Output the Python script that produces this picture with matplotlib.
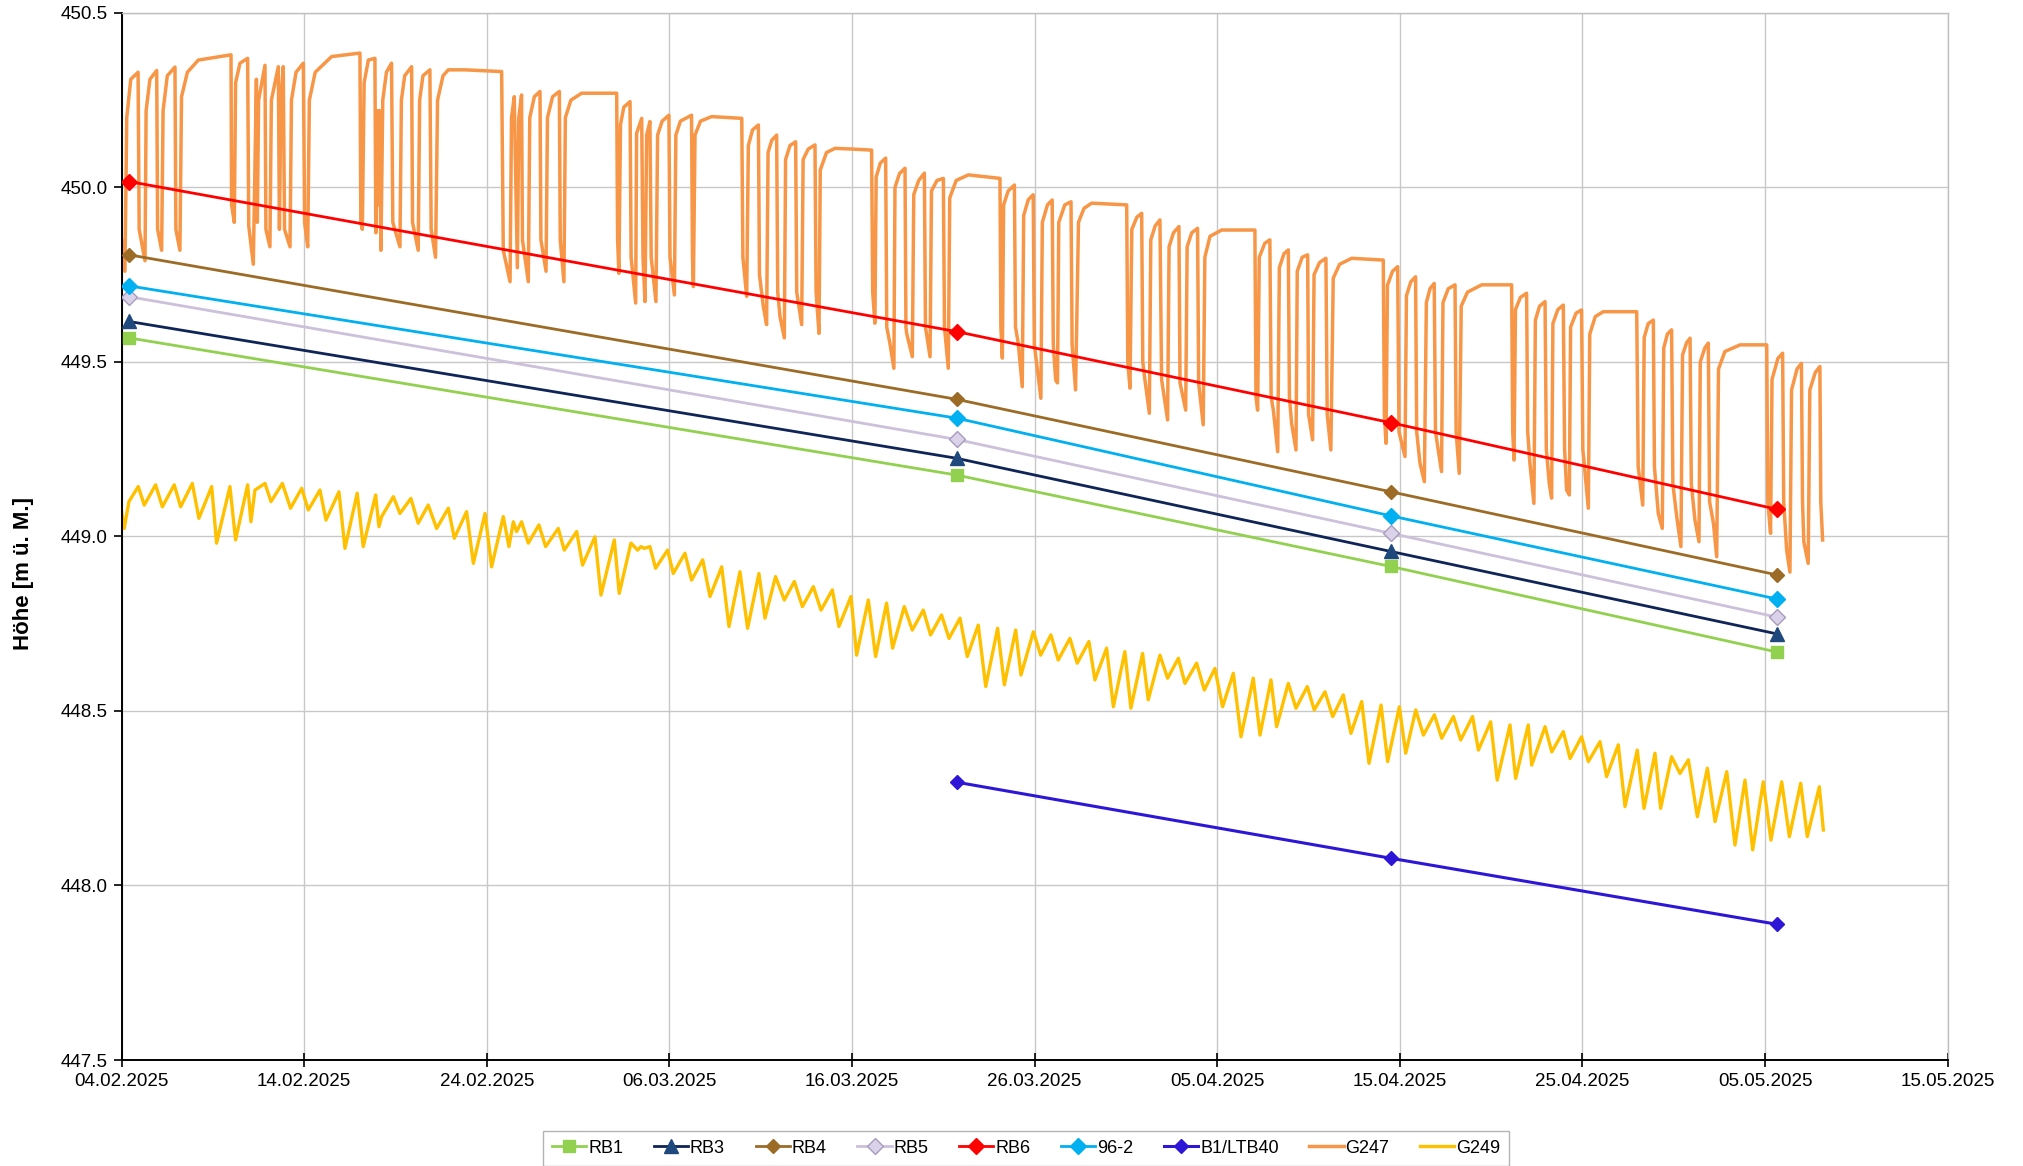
import matplotlib
matplotlib.use("Agg")
import matplotlib.pyplot as plt
import matplotlib.dates as mdates
import pandas as pd

plt.rcParams['font.family'] = ['Liberation Sans', 'DejaVu Sans']

START = pd.Timestamp('2025-02-04')

# manual readings (dates of the field campaigns)
rb_dates = ['2025-02-04 09:40', '2025-03-21 17:30', '2025-04-14 12:15', '2025-05-05 15:20']
rb1 = [449.569, 449.176, 448.914, 448.669]
rb3 = [449.616, 449.224, 448.957, 448.721]
rb4 = [449.807, 449.393, 449.128, 448.890]
rb5 = [449.687, 449.278, 449.009, 448.769]
rb6 = [450.017, 449.587, 449.326, 449.078]
w96_2 = [449.718, 449.339, 449.059, 448.821]
b1_ltb40 = [None, 448.296, 448.078, 447.889]

# logger G247: days since 04.02.2025 and level
g247_days = [
    0.00, 0.18, 0.28, 0.50, 0.90, 0.96, 1.28, 1.34, 1.55, 1.92, 1.97, 2.19, 2.27, 2.50, 2.92, 2.97, 3.19,
    3.28, 3.60, 4.20, 5.99, 6.02, 6.17, 6.24, 6.48, 6.90, 6.96, 7.21, 7.38, 7.43, 7.50, 7.85, 7.90, 8.12,
    8.20, 8.58, 8.64, 8.72, 8.85, 8.92, 9.22, 9.30, 9.55, 9.95, 10.02, 10.19, 10.28, 10.60, 11.50, 13.05,
    13.10, 13.18, 13.28, 13.51, 13.87, 13.92, 14.00, 14.06, 14.12, 14.20, 14.30, 14.50, 14.78, 14.85, 15.24,
    15.32, 15.50, 15.88, 15.93, 16.24, 16.32, 16.50, 16.88, 16.95, 17.19, 17.30, 17.60, 17.89, 18.80, 20.81,
    20.90, 21.27, 21.35, 21.50, 21.67, 21.75, 21.90, 21.95, 22.27, 22.35, 22.60, 22.91, 22.96, 23.24, 23.32,
    23.60, 23.97, 24.02, 24.22, 24.30, 24.60, 25.19, 27.11, 27.16, 27.23, 27.32, 27.50, 27.84, 27.90, 28.15,
    28.20, 28.48, 28.55, 28.66, 28.75, 28.93, 29.00, 29.26, 29.35, 29.60, 29.97, 30.03, 30.27, 30.35, 30.60,
    31.21, 31.26, 31.31, 31.40, 31.70, 32.31, 33.96, 34.02, 34.23, 34.32, 34.55, 34.87, 34.93, 35.14, 35.32,
    35.40, 35.60, 35.87, 35.93, 36.05, 36.29, 36.36, 36.60, 36.91, 36.97, 37.24, 37.32, 37.60, 37.97, 38.03,
    38.19, 38.26, 38.60, 39.06, 40.00, 41.07, 41.13, 41.25, 41.32, 41.55, 41.84, 41.90, 42.07, 42.29, 42.35,
    42.60, 42.90, 42.95, 42.99, 43.30, 43.38, 43.65, 43.96, 44.02, 44.27, 44.35, 44.65, 45.00, 45.06, 45.27,
    45.35, 45.70, 46.37, 48.10, 48.15, 48.23, 48.30, 48.55, 48.89, 48.95, 49.10, 49.32, 49.40, 49.65, 49.92,
    49.98, 50.34, 50.42, 50.70, 50.96, 51.02, 51.15, 51.25, 51.32, 51.65, 51.99, 52.05, 52.24, 52.40, 52.70,
    53.12, 55.04, 55.10, 55.22, 55.32, 55.60, 55.86, 55.92, 56.04, 56.28, 56.36, 56.60, 56.86, 56.95, 57.28,
    57.36, 57.60, 57.90, 57.96, 58.27, 58.35, 58.60, 58.92, 58.98, 59.23, 59.32, 59.60, 60.24, 62.06, 62.12,
    62.21, 62.30, 62.60, 62.88, 62.95, 63.07, 63.31, 63.40, 63.65, 63.89, 63.95, 64.07, 64.31, 64.38, 64.65,
    64.95, 65.00, 65.22, 65.30, 65.60, 65.95, 66.02, 66.22, 66.35, 66.70, 67.36, 69.09, 69.15, 69.24, 69.32,
    69.60, 69.88, 69.95, 70.28, 70.36, 70.60, 70.86, 70.92, 71.10, 71.34, 71.45, 71.65, 71.88, 71.95, 72.28,
    72.36, 72.65, 73.02, 73.08, 73.25, 73.36, 73.70, 74.48, 76.12, 76.18, 76.25, 76.33, 76.60, 76.94, 77.00,
    77.12, 77.34, 77.42, 77.65, 77.95, 78.02, 78.18, 78.31, 78.38, 78.65, 78.95, 79.02, 79.13, 79.28, 79.35,
    79.65, 79.95, 80.02, 80.32, 80.40, 80.70, 81.14, 82.97, 83.05, 83.30, 83.38, 83.60, 83.88, 83.94, 84.15,
    84.37, 84.45, 84.65, 84.88, 84.95, 85.16, 85.39, 85.48, 85.70, 85.89, 85.96, 86.16, 86.38, 86.45, 86.70,
    86.89, 86.96, 87.17, 87.35, 87.45, 87.80, 88.63, 90.09, 90.15, 90.30, 90.38, 90.70, 90.96, 91.02, 91.18,
    91.36, 91.45, 91.75, 91.99, 92.05, 92.12, 92.36, 92.45, 92.75, 93.00, 93.05, 93.15,
]
g247 = [
    449.85, 449.76, 450.20, 450.31, 450.33, 449.88, 449.79, 450.22, 450.31, 450.335, 449.88, 449.82, 450.22, 450.32, 450.345, 449.88, 449.82,
    450.26, 450.33, 450.365, 450.38, 449.95, 449.90, 450.30, 450.356, 450.37, 449.89, 449.78, 450.31, 449.90, 450.25, 450.35, 449.88, 449.83,
    450.25, 450.346, 449.88, 450.25, 450.346, 449.88, 449.83, 450.25, 450.33, 450.356, 449.90, 449.83, 450.25, 450.33, 450.375, 450.385,
    449.90, 449.88, 450.30, 450.365, 450.37, 449.87, 450.22, 449.95, 450.22, 449.82, 450.25, 450.33, 450.356, 449.90, 449.83,
    450.25, 450.32, 450.346, 449.90, 449.82, 450.25, 450.32, 450.337, 449.88, 449.80, 450.25, 450.32, 450.337, 450.337, 450.332,
    449.82, 449.73, 450.20, 450.26, 449.77, 450.20, 450.265, 449.85, 449.73, 450.20, 450.26, 450.275, 449.85, 449.76, 450.20,
    450.26, 450.275, 449.85, 449.73, 450.20, 450.25, 450.27, 450.27, 449.85, 449.754, 450.18, 450.23, 450.246, 449.80, 449.669,
    450.155, 450.198, 449.80, 449.673, 450.15, 450.189, 449.80, 449.673, 450.15, 450.19, 450.207, 449.80, 449.692, 450.15, 450.19,
    450.207, 449.80, 449.716, 450.15, 450.19, 450.203, 450.198, 449.80, 449.688, 450.12, 450.165, 450.179, 449.75, 449.659, 449.607,
    450.10, 450.135, 450.150, 449.70, 449.631, 449.569, 450.08, 450.12, 450.131, 449.70, 449.607, 450.08, 450.11, 450.122, 449.70,
    449.582, 450.05, 450.10, 450.112, 450.11, 450.107, 449.70, 449.611, 450.03, 450.07, 450.084, 449.60, 449.554, 449.482, 450.00,
    450.04, 450.055, 449.60, 449.582, 449.515, 449.98, 450.02, 450.041, 449.60, 449.515, 449.99, 450.02, 450.026, 449.60, 449.482,
    449.97, 450.02, 450.036, 450.026, 449.60, 449.511, 449.95, 449.99, 450.007, 449.60, 449.554, 449.429, 449.92, 449.965, 449.979,
    449.55, 449.396, 449.90, 449.95, 449.964, 449.55, 449.448, 449.44, 449.90, 449.95, 449.959, 449.55, 449.420, 449.90, 449.94,
    449.955, 449.950, 449.50, 449.425, 449.88, 449.915, 449.926, 449.50, 449.448, 449.353, 449.85, 449.89, 449.907, 449.45, 449.334,
    449.83, 449.87, 449.888, 449.44, 449.362, 449.83, 449.87, 449.883, 449.44, 449.320, 449.80, 449.86, 449.878, 449.878, 449.40,
    449.362, 449.80, 449.84, 449.850, 449.40, 449.362, 449.243, 449.77, 449.81, 449.821, 449.40, 449.324, 449.248, 449.76, 449.80,
    449.807, 449.35, 449.277, 449.75, 449.785, 449.797, 449.35, 449.248, 449.74, 449.78, 449.797, 449.792, 449.35, 449.267, 449.72,
    449.76, 449.773, 449.30, 449.229, 449.69, 449.73, 449.744, 449.30, 449.210, 449.157, 449.67, 449.71, 449.725, 449.30, 449.186,
    449.67, 449.71, 449.721, 449.30, 449.181, 449.66, 449.70, 449.721, 449.721, 449.30, 449.219, 449.65, 449.685, 449.697, 449.30,
    449.210, 449.095, 449.62, 449.66, 449.673, 449.25, 449.152, 449.110, 449.61, 449.65, 449.663, 449.25, 449.133, 449.119, 449.60,
    449.64, 449.649, 449.25, 449.081, 449.58, 449.63, 449.644, 449.644, 449.20, 449.090, 449.57, 449.61, 449.620, 449.20, 449.066,
    449.023, 449.54, 449.58, 449.592, 449.15, 449.057, 448.971, 449.52, 449.555, 449.568, 449.15, 449.047, 448.985, 449.50, 449.54,
    449.554, 449.10, 449.038, 448.942, 449.48, 449.53, 449.549, 449.549, 449.10, 449.009, 449.45, 449.51, 449.525, 449.10, 448.961,
    448.898, 449.42, 449.48, 449.496, 449.10, 448.985, 448.923, 449.42, 449.47, 449.487, 449.10, 448.990,
]

# logger G249: days since 04.02.2025 and level
g249_days = [
    0.00, 0.14, 0.40, 0.91, 1.24, 1.86, 2.23, 2.88, 3.23, 3.87, 4.23, 4.93, 5.20, 5.93, 6.24, 6.90, 7.08, 7.30,
    7.85, 8.18, 8.80, 9.25, 9.86, 10.22, 10.86, 11.19, 11.90, 12.23, 12.90, 13.23, 13.91, 14.09, 14.24, 14.88,
    15.24, 15.84, 16.24, 16.79, 17.25, 17.89, 18.22, 18.89, 19.26, 19.90, 20.26, 20.90, 21.21, 21.45, 21.63,
    21.90, 22.27, 22.85, 23.22, 23.91, 24.24, 24.92, 25.24, 25.92, 26.25, 26.98, 27.25, 27.89, 28.26, 28.44,
    28.62, 28.93, 29.24, 29.90, 30.21, 30.85, 31.21, 31.82, 32.22, 32.86, 33.26, 33.86, 34.28, 34.90, 35.23,
    35.81, 36.29, 36.84, 37.28, 37.88, 38.30, 38.92, 39.28, 39.94, 40.25, 40.89, 41.29, 41.89, 42.22, 42.86,
    43.30, 43.90, 44.30, 44.90, 45.31, 45.91, 46.31, 46.91, 47.32, 47.97, 48.34, 48.96, 49.25, 49.93, 50.33,
    50.89, 51.29, 51.93, 52.33, 52.97, 53.30, 53.94, 54.31, 54.94, 55.27, 55.91, 56.22, 56.86, 57.28, 57.87,
    58.23, 58.87, 59.29, 59.87, 60.29, 60.88, 61.30, 61.97, 62.34, 62.94, 63.25, 63.89, 64.31, 64.93, 65.31,
    65.90, 66.32, 66.90, 67.32, 67.91, 68.31, 68.97, 69.33, 69.97, 70.32, 70.87, 71.29, 71.89, 72.29, 72.93,
    73.33, 73.98, 74.30, 74.97, 75.33, 76.03, 76.34, 77.03, 77.22, 77.95, 78.32, 78.95, 79.32, 79.95, 80.32,
    80.96, 81.32, 81.96, 82.33, 83.00, 83.37, 83.97, 84.28, 84.88, 85.34, 85.80, 86.29, 86.84, 87.26, 87.90,
    88.35, 88.90, 89.32, 89.90, 90.32, 90.91, 91.33, 91.95, 92.31, 92.97, 93.19,
]
g249 = [
    449.071, 449.023, 449.100, 449.143, 449.090, 449.148, 449.085, 449.148, 449.085, 449.152, 449.052, 449.143, 448.981, 449.143, 448.990, 449.148, 449.042, 449.133,
    449.152, 449.100, 449.152, 449.081, 449.138, 449.076, 449.133, 449.047, 449.128, 448.966, 449.124, 448.971, 449.119, 449.028, 449.057, 449.114,
    449.066, 449.109, 449.038, 449.090, 449.023, 449.081, 448.995, 449.071, 448.923, 449.066, 448.913, 449.057, 448.971, 449.042, 449.014,
    449.042, 448.981, 449.033, 448.971, 449.023, 448.961, 449.014, 448.918, 448.999, 448.832, 448.990, 448.837, 448.981, 448.961, 448.971,
    448.966, 448.971, 448.909, 448.961, 448.894, 448.952, 448.875, 448.933, 448.828, 448.913, 448.742, 448.899, 448.737, 448.894, 448.766,
    448.885, 448.818, 448.871, 448.799, 448.856, 448.789, 448.847, 448.742, 448.828, 448.660, 448.818, 448.656, 448.809, 448.680, 448.799,
    448.732, 448.789, 448.718, 448.775, 448.708, 448.766, 448.656, 448.746, 448.570, 448.737, 448.575, 448.732, 448.603, 448.727, 448.660,
    448.718, 448.646, 448.708, 448.637, 448.699, 448.589, 448.680, 448.512, 448.670, 448.508, 448.665, 448.532, 448.660, 448.594, 448.651,
    448.579, 448.637, 448.560, 448.622, 448.512, 448.608, 448.426, 448.594, 448.431, 448.589, 448.455, 448.579, 448.508, 448.570, 448.503,
    448.555, 448.484, 448.546, 448.436, 448.527, 448.350, 448.517, 448.355, 448.512, 448.379, 448.503, 448.431, 448.489, 448.422, 448.484,
    448.417, 448.484, 448.388, 448.469, 448.302, 448.460, 448.307, 448.460, 448.345, 448.455, 448.383, 448.441, 448.364, 448.426, 448.355,
    448.412, 448.312, 448.403, 448.226, 448.388, 448.221, 448.379, 448.221, 448.369, 448.321, 448.360, 448.197, 448.336, 448.183, 448.326,
    448.116, 448.302, 448.102, 448.297, 448.130, 448.297, 448.140, 448.293, 448.140, 448.283, 448.159,
]

y_ticks = [447.5, 448.0, 448.5, 449.0, 449.5, 450.0, 450.5]


def to_dates(days):
    return START + pd.to_timedelta(days, unit='D')


fig = plt.figure(figsize=(20.24, 11.66), dpi=100)
ax = fig.add_axes([0.0601, 0.0909, 0.9022, 0.8980])

t_rb = pd.to_datetime(rb_dates)
manual = [
    ('RB1', rb1, '#92D050', '#92D050', '#92D050', 's', 9),
    ('RB3', rb3, '#0F2557', '#1F497D', '#1F497D', '^', 10),
    ('RB4', rb4, '#9C6B26', '#9C6B26', '#9C6B26', 'D', 7),
    ('RB5', rb5, '#CCC0DA', '#D9D2E9', '#A99BBD', 'D', 8),
    ('RB6', rb6, '#FF0000', '#FF0000', '#FF0000', 'D', 8),
    ('96-2', w96_2, '#00B0F0', '#00B0F0', '#00B0F0', 'D', 8),
]
for label, vals, lc, fc, ec, mk, ms in manual:
    ax.plot(t_rb, vals, color=lc, lw=2.0, marker=mk, ms=ms, mfc=fc, mec=ec, label=label, zorder=3)

ax.plot(t_rb[1:], b1_ltb40[1:], color='#2E16D6', lw=2.2, marker='D', ms=7, label='B1/LTB40', zorder=3)
ax.plot(to_dates(g247_days), g247, color='#F79646', lw=2.5, label='G247', zorder=2)
ax.plot(to_dates(g249_days), g249, color='#FFC000', lw=2.4, label='G249', zorder=2)

ax.set_xlim(pd.Timestamp('2025-02-04'), pd.Timestamp('2025-05-15'))
ax.set_ylim(447.5, 450.5)
ax.set_xticks(pd.date_range('2025-02-04', '2025-05-15', freq='10D'))
ax.xaxis.set_major_formatter(mdates.DateFormatter('%d.%m.%Y'))
ax.set_yticks(y_ticks)
ax.yaxis.set_major_formatter(matplotlib.ticker.FormatStrFormatter('%.1f'))

ax.grid(which='major', color='#C8C8C8', linewidth=1.0)
ax.set_axisbelow(True)
for side in ['top', 'right']:
    ax.spines[side].set_color('#BFBFBF')
    ax.spines[side].set_linewidth(1.0)
for side in ['left', 'bottom']:
    ax.spines[side].set_color('black')
    ax.spines[side].set_linewidth(1.4)

ax.tick_params(axis='x', direction='inout', length=10, width=1.2, labelsize=13.5, pad=4)
ax.tick_params(axis='y', direction='out', length=6, width=1.2, labelsize=13.5, pad=4)

ax.set_ylabel('Höhe [m ü. M.]', fontsize=16, fontweight='bold')
ax.yaxis.set_label_coords(-0.048, 0.465)

leg = ax.legend(loc='upper center', bbox_to_anchor=(0.507, 0.038), bbox_transform=fig.transFigure,
                ncol=9, fontsize=13, frameon=True, fancybox=False, edgecolor='#A0A0A0',
                handlelength=1.9, columnspacing=1.7, handletextpad=0.1, borderpad=0.5)
leg.get_frame().set_linewidth(1.0)

fig.savefig('out.png', dpi=100)
